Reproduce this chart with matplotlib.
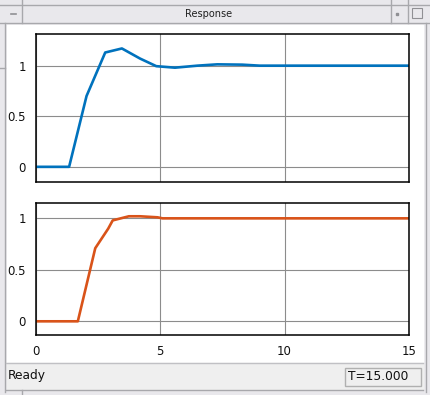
import matplotlib
matplotlib.use("Agg")
import matplotlib.pyplot as plt
from matplotlib.patches import Rectangle

# step response data
t_top = [0, 1.35, 2.05, 2.8, 3.47, 4.2, 4.85, 5.6, 6.5, 7.3, 8.3, 9.0, 15]
y_top = [0, 0, 0.70, 1.13, 1.17, 1.07, 0.995, 0.98, 1.0, 1.013, 1.01, 1.0, 1.0]

t_bot = [0, 1.7, 2.4, 2.92, 3.1, 3.75, 4.2, 4.9, 5.1, 15]
y_bot = [0, 0, 0.71, 0.90, 0.98, 1.02, 1.02, 1.01, 1.0, 1.0]

x_ticks = [0, 5, 10, 15]
y_ticks = [0, 0.5, 1]
y_ticklabels = ["0", "0.5", "1"]

W, H = 430, 395
fig = plt.figure(figsize=(W / 100, H / 100), dpi=100)

# window frame drawn in pixel coords
bg = fig.add_axes([0, 0, 1, 1], zorder=-5)
bg.set_xlim(0, W)
bg.set_ylim(H, 0)
bg.axis("off")
frame_bg = "#e9e8ec"
edge = "#a8a8ac"
bg.add_patch(Rectangle((0, 0), W, H, color=frame_bg))
# title bar
bg.plot([0, W], [5, 5], color=edge, lw=1)
bg.plot([0, W], [23, 23], color=edge, lw=1)
bg.plot([22, 22], [0, 23], color=edge, lw=1)
bg.plot([391, 391], [0, 23], color=edge, lw=1)
bg.plot([408, 408], [0, 23], color=edge, lw=1)
bg.plot([11, 16], [14, 14], color="#909094", lw=1.2)
bg.add_patch(Rectangle((412, 8), 10, 10, fill=False, ec="#909094", lw=0.8))
bg.add_patch(Rectangle((396, 13), 2, 2, color="#909094"))
bg.text(209, 14, "Response", ha="center", va="center", fontsize=7, color="#202020")
# side borders
bg.plot([5, 5], [23, 392], color=edge, lw=1)
bg.plot([425.5, 425.5], [23, 392], color=edge, lw=1)
bg.plot([0, 5], [68, 68], color=edge, lw=1)
bg.plot([22, 22], [390, H], color=edge, lw=1)
# white client area
bg.add_patch(Rectangle((6.5, 24.5), 416.5, 338, color="white"))
# status bar
bg.add_patch(Rectangle((6.5, 363), 416.5, 27, color="#efefef"))
bg.plot([6, 423], [362.5, 362.5], color="#c0c0c4", lw=1)
bg.plot([6, 423], [390, 390], color=edge, lw=1)
bg.text(8, 376, "Ready", ha="left", va="center", fontsize=8.8, color="#101010")
bg.add_patch(Rectangle((345, 367.5), 75.5, 18.5, fill=False, ec="#b0b0b0", lw=1))
bg.text(347.5, 377, "T=15.000", ha="left", va="center", fontsize=8.8, color="#101010")


def style(ax, ylim):
    ax.set_xlim(0, 15)
    ax.set_ylim(*ylim)
    ax.set_xticks(x_ticks)
    ax.set_yticks(y_ticks)
    ax.set_yticklabels(y_ticklabels)
    ax.grid(True, color="#8c8c8c", lw=0.8)
    ax.tick_params(length=0, labelsize=8.5, pad=7, colors="#101010")
    for s in ax.spines.values():
        s.set_linewidth(1.1)
        s.set_color("black")


ax1 = fig.add_axes([35.5 / W, 1 - 182 / H, 373.5 / W, 147.7 / H])
ax1.plot(t_top, y_top, color="#0072BD", lw=1.9)
style(ax1, (-0.15, 1.31))
ax1.set_xticklabels([])

ax2 = fig.add_axes([35.5 / W, 1 - 335 / H, 373.5 / W, 132 / H])
ax2.plot(t_bot, y_bot, color="#D95319", lw=1.9)
style(ax2, (-0.133, 1.149))
ax2.set_xticklabels([str(v) for v in x_ticks])

fig.savefig("out.png", dpi=100)
